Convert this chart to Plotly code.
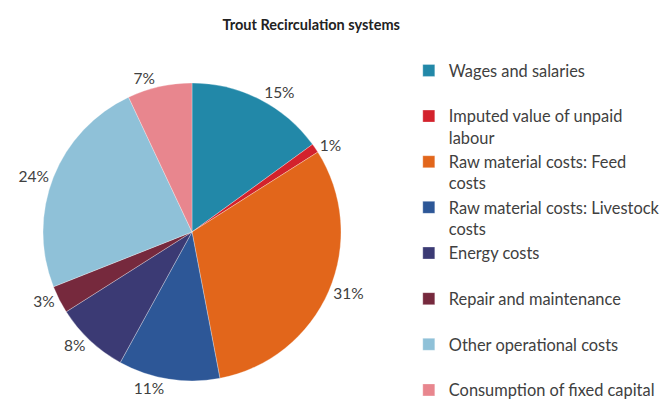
import plotly.graph_objects as go

# Cost shares (%), clockwise from 12 o'clock
categories = [
    "Wages and salaries",
    "Imputed value of unpaid<br>labour",
    "Raw material costs: Feed<br>costs",
    "Raw material costs: Livestock<br>costs",
    "Energy costs",
    "Repair and maintenance",
    "Other operational costs",
    "Consumption of fixed capital",
]
shares = [15, 1, 31, 11, 8, 3, 24, 7]
colors = ["#2288a8", "#d3222c", "#e2661b", "#2d5797", "#3b3a74",
          "#76293d", "#8fc1d8", "#e8868e"]

# single-line entries get a blank second line so every entry has the same height
# (not the last one, so the legend still fits under the top of the page)
legend_labels = [c if ("<br>" in c or i == len(categories) - 1) else c + "<br> "
                 for i, c in enumerate(categories)]

fig = go.Figure()

fig.add_trace(go.Pie(
    labels=legend_labels,
    values=shares,
    sort=False,
    direction="clockwise",
    rotation=0,
    marker=dict(colors=colors, line=dict(color="white", width=0.3)),
    texttemplate="%{percent:.0%}",
    textposition="outside",
    textfont=dict(size=15.5, color="#404040"),
    domain=dict(x=[0.0524, 0.4985], y=[0.0856, 0.8166]),
    hoverinfo="label+percent",
))

fig.update_layout(
    width=668,
    height=408,
    title=dict(
        text="<b>Trout Recirculation systems</b>",
        x=0.454, xanchor="center",
        y=0.958, yanchor="middle",
        font=dict(size=14.5, color="#222222", family="Lato, sans-serif"),
    ),
    font=dict(family="Lato, sans-serif", color="#404040"),
    legend=dict(
        x=0.600, y=0.889, xanchor="left", yanchor="top",
        font=dict(size=16.4, color="#404040"),
        valign="top",
        itemwidth=30,
    ),
    margin=dict(l=0, r=0, t=0, b=0),
    paper_bgcolor="white",
    plot_bgcolor="white",
)

fig.write_html("out.html")
